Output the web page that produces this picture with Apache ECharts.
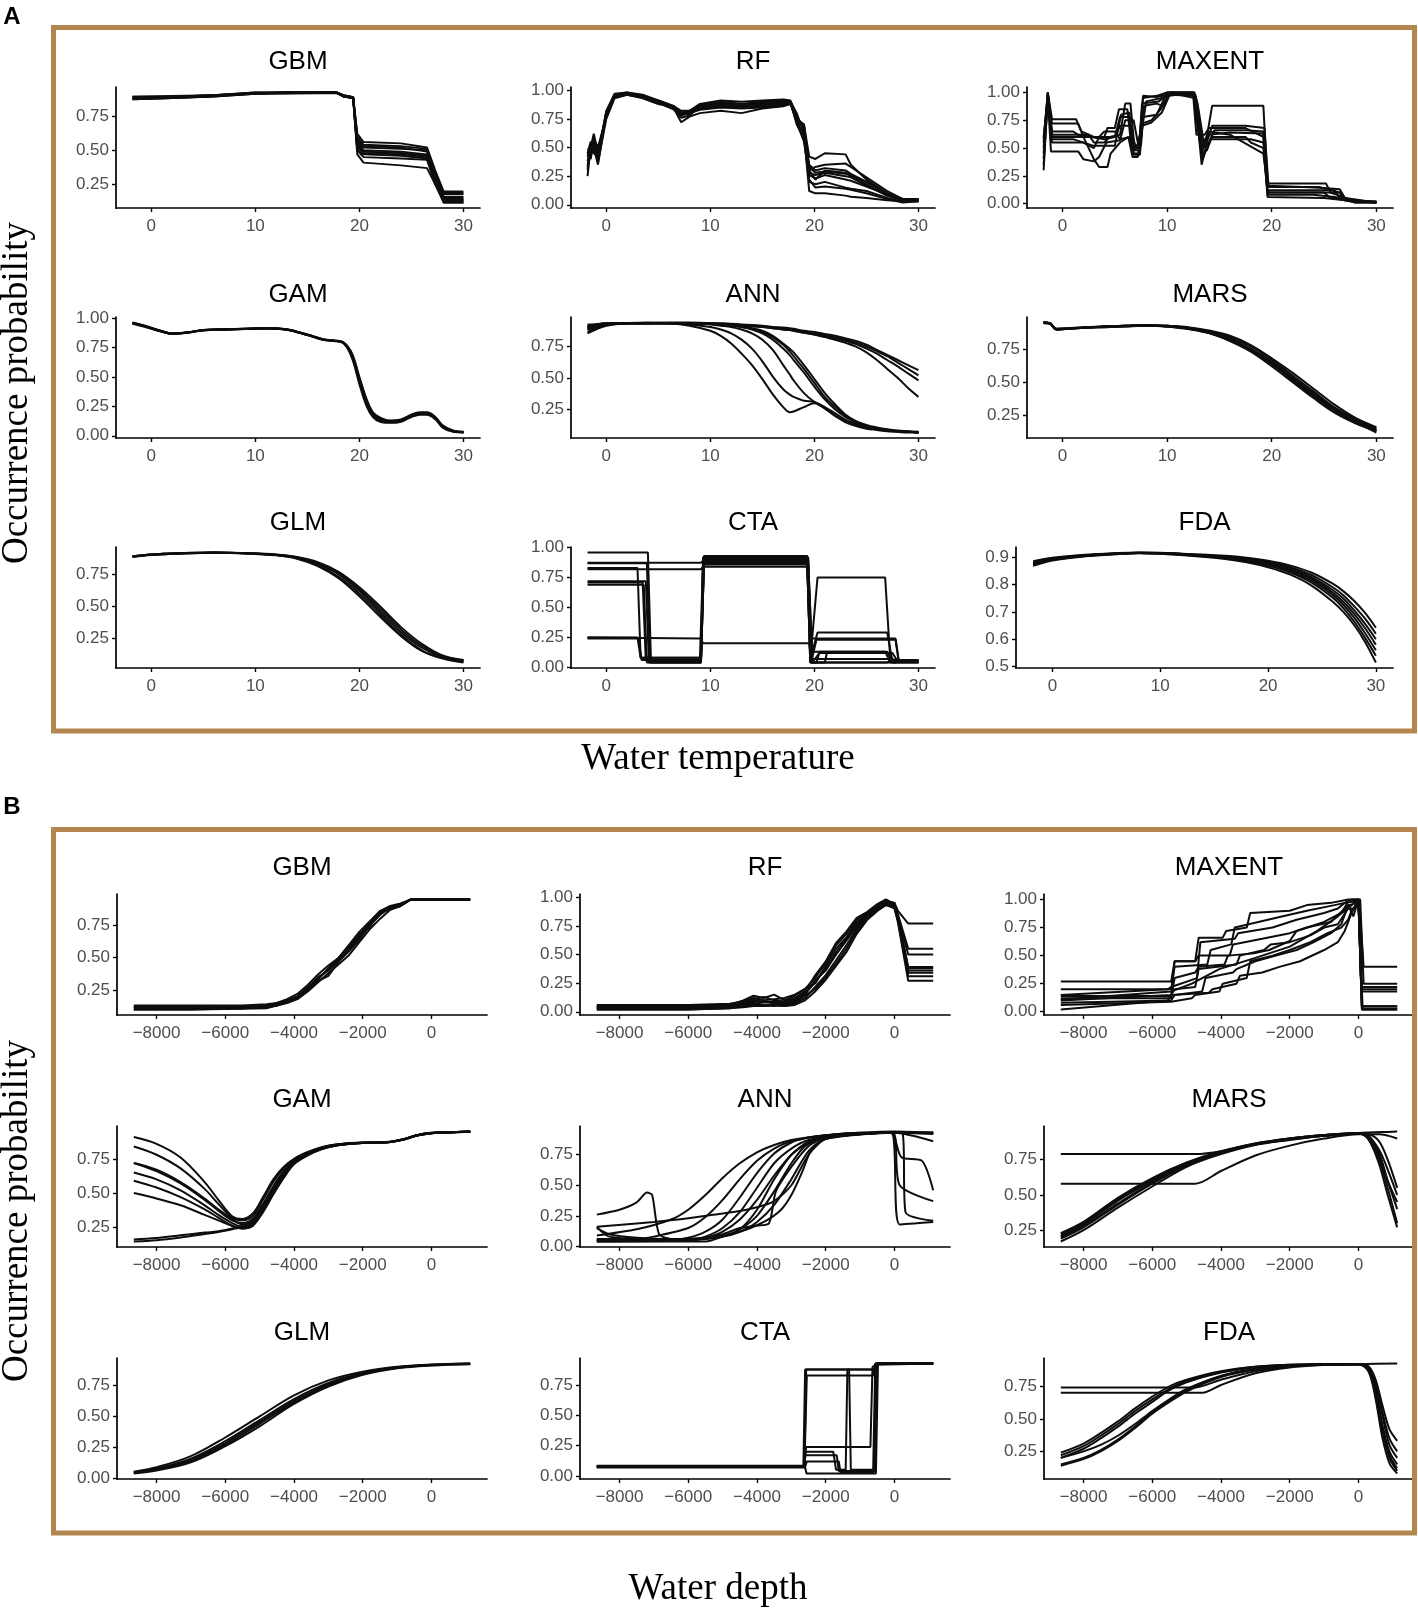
<!DOCTYPE html>
<html><head><meta charset="utf-8">
<script src="https://cdn.jsdelivr.net/npm/echarts@6/dist/echarts.min.js"></script>
<style>html,body{margin:0;padding:0;background:#fff}#c{width:1418px;height:1608px}</style>
</head><body><div id="c"></div>
<script>
// ---------------- DATA ----------------
const A_X_RANGE = [-1.8, 30];
const B_X_RANGE = [-8660, 1126];
const A_X_TICKS = [0, 10, 20, 30];
const B_X_TICKS = [-8000, -6000, -4000, -2000, 0];
const MODEL_NAMES = ['GBM','RF','MAXENT','GAM','ANN','MARS','GLM','CTA','FDA'];

// A: water temperature
const A_GBM_X = [-1.8,2,6,10,14,17.8,18.5,19.4,19.8,20.4,24,26.5,27.3,28.1,30];
const A_GBM_Y = [
 [0.87,0.88,0.895,0.915,0.92,0.92,0.895,0.885,0.62,0.56,0.55,0.52,0.35,0.2,0.2],
 [0.89,0.89,0.9,0.92,0.92,0.92,0.89,0.88,0.58,0.53,0.52,0.49,0.3,0.18,0.18],
 [0.88,0.885,0.9,0.915,0.92,0.92,0.89,0.88,0.55,0.5,0.49,0.47,0.28,0.15,0.15],
 [0.885,0.89,0.895,0.915,0.92,0.92,0.9,0.885,0.5,0.47,0.46,0.44,0.25,0.12,0.12],
 [0.875,0.88,0.89,0.91,0.915,0.915,0.89,0.88,0.47,0.41,0.39,0.37,0.25,0.14,0.14],
 [0.89,0.895,0.9,0.92,0.92,0.92,0.895,0.885,0.56,0.52,0.51,0.5,0.3,0.16,0.16],
 [0.88,0.885,0.895,0.915,0.92,0.92,0.89,0.88,0.53,0.49,0.48,0.46,0.3,0.13,0.13],
 [0.87,0.88,0.89,0.91,0.915,0.918,0.9,0.885,0.6,0.54,0.53,0.51,0.33,0.19,0.19],
 [0.885,0.89,0.9,0.915,0.92,0.92,0.895,0.88,0.52,0.48,0.47,0.45,0.28,0.12,0.12],
 [0.88,0.885,0.895,0.915,0.92,0.92,0.895,0.885,0.5,0.45,0.44,0.43,0.26,0.14,0.14]
];

const A_RF_X = [-1.8,-1.5,-1.2,-0.8,0,0.8,2,3.5,5,6.5,7.2,8,9,11,13,15,17,17.7,18.3,19,19.5,20.1,21,23,23.5,25,27,28.5,30];
const A_RF_Y = [
 [0.25,0.5,0.62,0.45,0.78,0.95,0.97,0.95,0.9,0.84,0.72,0.77,0.8,0.82,0.8,0.84,0.86,0.88,0.75,0.7,0.42,0.4,0.45,0.44,0.35,0.22,0.1,0.04,0.04],
 [0.45,0.4,0.55,0.37,0.75,0.93,0.96,0.93,0.88,0.85,0.8,0.8,0.84,0.87,0.86,0.87,0.88,0.9,0.72,0.68,0.3,0.22,0.3,0.28,0.25,0.18,0.08,0.04,0.05],
 [0.3,0.5,0.45,0.42,0.8,0.96,0.98,0.95,0.9,0.84,0.76,0.78,0.86,0.9,0.88,0.89,0.9,0.9,0.8,0.62,0.12,0.1,0.1,0.08,0.07,0.06,0.04,0.03,0.03],
 [0.38,0.48,0.5,0.4,0.82,0.97,0.98,0.96,0.91,0.86,0.82,0.82,0.88,0.91,0.9,0.91,0.92,0.91,0.78,0.65,0.35,0.3,0.32,0.3,0.27,0.2,0.1,0.05,0.05],
 [0.42,0.52,0.58,0.5,0.77,0.96,0.97,0.94,0.89,0.85,0.8,0.79,0.85,0.88,0.87,0.88,0.89,0.9,0.7,0.58,0.2,0.18,0.2,0.15,0.14,0.12,0.06,0.03,0.03],
 [0.35,0.45,0.5,0.35,0.79,0.94,0.96,0.94,0.89,0.83,0.78,0.8,0.83,0.85,0.84,0.85,0.87,0.89,0.74,0.7,0.28,0.26,0.28,0.25,0.24,0.17,0.08,0.04,0.04],
 [0.4,0.43,0.52,0.4,0.8,0.96,0.97,0.95,0.9,0.85,0.8,0.82,0.87,0.89,0.88,0.9,0.91,0.9,0.76,0.68,0.3,0.33,0.35,0.36,0.33,0.24,0.12,0.05,0.05],
 [0.45,0.55,0.5,0.45,0.81,0.95,0.97,0.95,0.91,0.86,0.81,0.8,0.86,0.88,0.87,0.88,0.9,0.88,0.73,0.6,0.22,0.15,0.16,0.14,0.13,0.1,0.05,0.02,0.03],
 [0.33,0.47,0.56,0.43,0.79,0.95,0.96,0.94,0.9,0.84,0.79,0.81,0.85,0.87,0.86,0.86,0.88,0.89,0.72,0.55,0.26,0.23,0.26,0.22,0.21,0.16,0.09,0.04,0.04],
 [0.48,0.5,0.54,0.38,0.8,0.96,0.97,0.94,0.9,0.85,0.8,0.8,0.84,0.86,0.85,0.87,0.88,0.9,0.75,0.66,0.33,0.28,0.29,0.27,0.26,0.2,0.1,0.04,0.04]
];

const A_MAXENT = [
 [[-1.8,0.3],[-1.4,1.0],[-1.0,0.76],[1.3,0.76],[1.8,0.65],[3,0.6],[4,0.6],[4.3,0.68],[5,0.68],[5.4,0.85],[6.2,0.85],[6.6,0.5],[7.3,0.5],[7.7,0.95],[9,0.97],[10,1.0],[12.5,1.0],[12.9,0.7],[13.3,0.45],[13.8,0.6],[14.3,0.88],[19.2,0.88],[19.6,0.18],[25.2,0.18],[25.6,0.1],[28,0.02],[30,0.02]],
 [[-1.8,0.45],[-1.4,0.98],[-1.0,0.72],[1.5,0.72],[2,0.6],[5,0.6],[5.5,0.78],[6.4,0.78],[6.8,0.45],[7.3,0.45],[7.6,0.9],[9.2,0.92],[10.3,1.0],[12.6,1.0],[13,0.65],[13.3,0.35],[13.8,0.55],[14.3,0.7],[17.5,0.7],[19.3,0.68],[19.7,0.15],[24.5,0.15],[26.5,0.1],[27,0.03],[30,0.02]],
 [[-1.8,0.55],[-1.4,1.0],[-1.0,0.6],[2,0.6],[3,0.4],[3.5,0.33],[4.3,0.33],[4.6,0.45],[5.5,0.55],[6.3,0.6],[6.7,0.42],[7.2,0.42],[7.6,0.72],[8.5,0.75],[9.4,0.85],[10.2,0.98],[12.5,0.97],[12.8,0.62],[13.6,0.62],[14,0.68],[17.5,0.68],[19.2,0.6],[19.6,0.12],[26,0.12],[26.5,0.05],[28,0.01],[30,0.01]],
 [[-1.8,0.6],[-1.4,0.95],[-1.1,0.47],[1.5,0.47],[2,0.4],[3,0.38],[3.5,0.42],[4.2,0.55],[5.5,0.57],[6,0.75],[6.8,0.75],[7.2,0.55],[7.6,0.7],[8.5,0.73],[9.5,0.82],[10.2,0.97],[12.6,1.0],[12.9,0.9],[13.4,0.4],[13.8,0.5],[14.3,0.6],[17.5,0.6],[18,0.55],[19.2,0.5],[19.6,0.1],[25,0.1],[25.5,0.06],[27,0.03],[30,0.01]],
 [[-1.8,0.5],[-1.4,1.0],[-1.0,0.65],[1,0.65],[1.5,0.62],[4,0.58],[5,0.6],[5.5,0.7],[6.5,0.7],[7,0.5],[7.5,0.6],[8,0.92],[9.5,0.95],[10.5,1.0],[12.5,0.98],[13,0.75],[13.4,0.5],[14,0.55],[14.5,0.66],[17.5,0.66],[19.2,0.65],[19.6,0.08],[24,0.08],[26,0.06],[28,0.02],[30,0.01]],
 [[-1.8,0.35],[-1.4,0.97],[-1.0,0.62],[2.5,0.62],[3,0.55],[4,0.55],[4.5,0.6],[5.5,0.62],[6,0.9],[6.5,0.9],[6.9,0.48],[7.3,0.48],[7.7,0.97],[9,0.96],[10,0.98],[12.7,0.98],[13,0.85],[13.5,0.55],[14,0.65],[16,0.62],[19.2,0.45],[19.6,0.16],[23,0.15],[25,0.14],[26.5,0.13],[27,0.05],[30,0.01]],
 [[-1.8,0.58],[-1.4,1.0],[-1.0,0.58],[1,0.58],[3,0.52],[5,0.52],[5.6,0.8],[6.4,0.82],[6.8,0.44],[7.4,0.44],[7.7,0.78],[9,0.8],[10,1.0],[12.5,1.0],[12.8,0.8],[13.3,0.45],[13.8,0.48],[14.2,0.58],[18,0.58],[19.2,0.55],[19.6,0.06],[25,0.05],[27,0.03],[28,0.01],[30,0.01]],
 [[-1.8,0.4],[-1.4,0.92],[-1.0,0.55],[2,0.55],[3,0.5],[3.5,0.6],[4,0.65],[5,0.65],[5.5,0.58],[6.5,0.6],[7,0.52],[7.5,0.52],[7.8,0.88],[9,0.9],[9.6,0.88],[10.2,1.0],[12.6,0.95],[13,0.72],[13.4,0.52],[14,0.62],[16,0.64],[19.2,0.63],[19.6,0.1],[26.5,0.1],[27,0.04],[30,0.01]]
];

const A_GAM_X = [-1.8,-0.5,1,2,3.5,5,7,9,11,13,15,16.5,17.5,18.5,19.3,20,20.7,21.3,22,23,24,25,25.8,26.5,27.3,28,29,30];
const A_GAM_Y = [
 [0.96,0.93,0.89,0.87,0.88,0.9,0.905,0.91,0.915,0.905,0.86,0.82,0.81,0.79,0.68,0.47,0.28,0.18,0.14,0.12,0.13,0.17,0.19,0.19,0.15,0.08,0.04,0.03],
 [0.955,0.925,0.885,0.868,0.878,0.898,0.905,0.91,0.913,0.903,0.858,0.818,0.808,0.785,0.66,0.44,0.25,0.16,0.12,0.11,0.12,0.16,0.18,0.18,0.14,0.07,0.035,0.03],
 [0.965,0.935,0.893,0.873,0.882,0.902,0.908,0.912,0.916,0.907,0.863,0.823,0.813,0.795,0.7,0.5,0.31,0.2,0.155,0.13,0.14,0.18,0.2,0.2,0.16,0.09,0.045,0.035],
 [0.958,0.928,0.888,0.869,0.879,0.899,0.904,0.909,0.914,0.904,0.859,0.819,0.81,0.79,0.67,0.46,0.27,0.17,0.13,0.115,0.125,0.165,0.185,0.185,0.145,0.075,0.038,0.028],
 [0.962,0.932,0.891,0.871,0.881,0.901,0.906,0.911,0.916,0.906,0.861,0.821,0.812,0.792,0.69,0.49,0.3,0.19,0.145,0.125,0.135,0.175,0.195,0.195,0.155,0.085,0.042,0.032],
 [0.96,0.93,0.89,0.87,0.88,0.9,0.906,0.911,0.915,0.905,0.86,0.82,0.81,0.788,0.675,0.465,0.285,0.185,0.142,0.122,0.132,0.172,0.192,0.19,0.15,0.08,0.04,0.03]
];

const A_ANN_X = [-1.8,-1,0,2,4,6,8,10,11,12,13,14,15,16,17,17.6,18,19,20,21,22,23,24,25,26,27,28,29,30];
const A_ANN_Y = [
 [0.9,0.92,0.93,0.93,0.93,0.935,0.935,0.93,0.93,0.925,0.92,0.915,0.91,0.9,0.895,0.89,0.885,0.87,0.86,0.845,0.83,0.81,0.79,0.76,0.72,0.68,0.64,0.6,0.56],
 [0.88,0.9,0.92,0.93,0.93,0.93,0.93,0.93,0.925,0.92,0.915,0.91,0.905,0.895,0.89,0.885,0.88,0.865,0.85,0.835,0.82,0.8,0.775,0.745,0.71,0.67,0.62,0.57,0.52],
 [0.86,0.89,0.92,0.93,0.93,0.93,0.93,0.925,0.92,0.915,0.91,0.905,0.9,0.89,0.88,0.875,0.87,0.855,0.84,0.825,0.81,0.79,0.765,0.73,0.69,0.64,0.59,0.535,0.48],
 [0.92,0.92,0.925,0.93,0.93,0.93,0.93,0.925,0.92,0.915,0.91,0.905,0.9,0.89,0.88,0.875,0.87,0.855,0.84,0.82,0.8,0.775,0.745,0.7,0.64,0.57,0.5,0.42,0.35],
 [0.9,0.91,0.92,0.93,0.935,0.93,0.91,0.87,0.83,0.77,0.69,0.6,0.49,0.37,0.27,0.23,0.235,0.27,0.3,0.26,0.2,0.15,0.12,0.1,0.09,0.08,0.075,0.07,0.07],
 [0.89,0.9,0.92,0.93,0.93,0.93,0.92,0.9,0.88,0.85,0.8,0.73,0.63,0.51,0.41,0.37,0.35,0.32,0.31,0.27,0.22,0.17,0.14,0.11,0.1,0.09,0.08,0.075,0.07],
 [0.85,0.88,0.91,0.93,0.93,0.93,0.93,0.92,0.91,0.9,0.88,0.85,0.8,0.72,0.6,0.53,0.48,0.38,0.31,0.26,0.2,0.16,0.13,0.11,0.1,0.09,0.08,0.075,0.07],
 [0.9,0.91,0.92,0.93,0.93,0.93,0.93,0.925,0.92,0.91,0.9,0.88,0.85,0.8,0.73,0.68,0.64,0.54,0.43,0.33,0.25,0.19,0.15,0.12,0.1,0.09,0.08,0.075,0.07],
 [0.91,0.92,0.93,0.93,0.93,0.93,0.93,0.925,0.92,0.915,0.905,0.89,0.87,0.83,0.77,0.73,0.7,0.6,0.49,0.38,0.29,0.21,0.16,0.13,0.11,0.095,0.085,0.08,0.075],
 [0.88,0.9,0.92,0.93,0.93,0.93,0.93,0.925,0.92,0.91,0.9,0.885,0.86,0.82,0.76,0.71,0.67,0.57,0.46,0.35,0.27,0.2,0.15,0.12,0.1,0.09,0.08,0.075,0.07]
];

const A_MARS_X = [-1.8,-1.2,-0.6,0,2,4,6,8,10,12,14,16,18,20,22,24,26,28,30];
const A_MARS_Y = [
 [0.95,0.945,0.9,0.9,0.91,0.92,0.925,0.93,0.925,0.91,0.88,0.83,0.75,0.65,0.53,0.41,0.3,0.21,0.14],
 [0.95,0.94,0.9,0.905,0.91,0.915,0.92,0.93,0.92,0.9,0.87,0.81,0.73,0.62,0.5,0.38,0.27,0.19,0.13],
 [0.95,0.945,0.905,0.905,0.915,0.92,0.925,0.93,0.925,0.915,0.89,0.85,0.78,0.68,0.57,0.45,0.33,0.23,0.16],
 [0.95,0.945,0.9,0.9,0.91,0.92,0.925,0.93,0.92,0.905,0.875,0.82,0.74,0.635,0.515,0.395,0.285,0.2,0.135],
 [0.945,0.94,0.895,0.9,0.91,0.915,0.92,0.925,0.92,0.905,0.87,0.82,0.74,0.64,0.52,0.4,0.29,0.2,0.12],
 [0.95,0.945,0.9,0.9,0.91,0.92,0.925,0.93,0.925,0.91,0.885,0.84,0.77,0.67,0.55,0.43,0.31,0.22,0.15],
 [0.95,0.945,0.9,0.902,0.912,0.918,0.923,0.928,0.922,0.908,0.878,0.828,0.752,0.655,0.535,0.415,0.3,0.21,0.14]
];

const A_GLM_X = [-1.8,0,3,6,9,12,14,16,18,20,22,24,26,28,30];
const A_GLM_Y = [
 [0.89,0.905,0.915,0.92,0.915,0.9,0.88,0.83,0.75,0.62,0.46,0.3,0.18,0.11,0.08],
 [0.89,0.905,0.915,0.92,0.915,0.905,0.885,0.845,0.77,0.65,0.5,0.34,0.21,0.12,0.085],
 [0.885,0.9,0.912,0.918,0.915,0.9,0.875,0.82,0.73,0.6,0.44,0.28,0.16,0.1,0.07],
 [0.89,0.905,0.915,0.92,0.915,0.903,0.883,0.838,0.76,0.635,0.48,0.32,0.195,0.115,0.08],
 [0.887,0.902,0.913,0.918,0.913,0.898,0.872,0.815,0.72,0.58,0.42,0.27,0.155,0.095,0.065]
];

const A_CTA = [
 [[-1.8,0.96],[4.0,0.96],[4.3,0.04],[9.1,0.04],[9.4,0.93],[19.3,0.93],[19.6,0.04],[20.2,0.04],[20.5,0.13],[27,0.13],[27.4,0.05],[30,0.05]],
 [[-1.8,0.875],[9.1,0.875],[9.4,0.9],[19.3,0.9],[19.6,0.06],[20.3,0.75],[26.8,0.75],[27.3,0.05],[30,0.05]],
 [[-1.8,0.87],[3.9,0.87],[4.2,0.05],[9.1,0.05],[9.3,0.92],[19.4,0.92],[19.7,0.04],[27.8,0.04],[28,0.05],[30,0.05]],
 [[-1.8,0.82],[9.1,0.82],[9.3,0.84],[19.4,0.84],[19.6,0.24],[27.8,0.24],[28.1,0.06],[30,0.06]],
 [[-1.8,0.83],[3,0.83],[3.3,0.08],[9,0.08],[9.3,0.88],[19.3,0.88],[19.7,0.1],[20.3,0.29],[27,0.29],[27.5,0.05],[30,0.05]],
 [[-1.8,0.72],[3.8,0.72],[4.1,0.04],[9.1,0.04],[9.4,0.91],[19.4,0.91],[19.8,0.04],[20.5,0.12],[27.2,0.12],[27.6,0.04],[30,0.04]],
 [[-1.8,0.71],[3.5,0.71],[3.8,0.06],[9.1,0.06],[9.4,0.89],[19.4,0.89],[19.8,0.07],[27.5,0.07],[28,0.05],[30,0.05]],
 [[-1.8,0.69],[3.6,0.69],[3.9,0.04],[9.1,0.04],[9.3,0.86],[19.3,0.86],[19.6,0.13],[26.8,0.13],[27.3,0.04],[30,0.04]],
 [[-1.8,0.25],[9.1,0.24],[9.3,0.2],[19.5,0.2],[19.8,0.04],[21,0.04],[21.2,0.12],[27.5,0.12],[28,0.05],[30,0.05]],
 [[-1.8,0.25],[3,0.25],[3.3,0.08],[9.1,0.08],[9.4,0.93],[19.3,0.93],[19.6,0.04],[27,0.04],[27.3,0.06],[30,0.06]],
 [[-1.8,0.24],[3.1,0.24],[3.4,0.06],[9.1,0.06],[9.3,0.87],[19.4,0.87],[19.7,0.05],[20.2,0.23],[27.8,0.23],[28.1,0.05],[30,0.05]]
];

const A_FDA_X = [-1.8,0,3,6,8,10,13,16,18,20,22,24,26,27,28,29,30];
const A_FDA_Y = [
 [0.885,0.898,0.909,0.915,0.917,0.916,0.911,0.905,0.898,0.887,0.87,0.844,0.803,0.775,0.74,0.696,0.642],
 [0.88,0.895,0.907,0.914,0.916,0.915,0.91,0.903,0.895,0.883,0.864,0.835,0.79,0.76,0.72,0.675,0.62],
 [0.878,0.894,0.906,0.913,0.916,0.915,0.909,0.902,0.893,0.88,0.86,0.828,0.78,0.748,0.705,0.656,0.6],
 [0.875,0.893,0.905,0.913,0.915,0.914,0.908,0.9,0.891,0.877,0.855,0.822,0.771,0.736,0.692,0.64,0.58],
 [0.872,0.891,0.905,0.912,0.915,0.914,0.907,0.898,0.888,0.873,0.85,0.815,0.762,0.725,0.678,0.622,0.56],
 [0.87,0.89,0.904,0.912,0.915,0.913,0.906,0.896,0.885,0.869,0.845,0.808,0.752,0.713,0.664,0.605,0.54],
 [0.868,0.888,0.903,0.911,0.914,0.912,0.904,0.893,0.881,0.863,0.837,0.797,0.737,0.699,0.651,0.59,0.515]
];

// B: water depth
const B_GBM_X = [-8660,-7000,-5500,-4800,-4500,-4200,-3900,-3600,-3300,-3000,-2700,-2400,-2100,-1800,-1500,-1200,-900,-600,0,1126];
const B_GBM_Y = [
 [0.12,0.12,0.12,0.13,0.15,0.17,0.2,0.27,0.35,0.4,0.48,0.56,0.66,0.74,0.84,0.88,0.9,0.95,0.95,0.95],
 [0.1,0.1,0.105,0.11,0.13,0.15,0.18,0.24,0.31,0.38,0.45,0.52,0.62,0.72,0.8,0.87,0.9,0.95,0.95,0.95],
 [0.13,0.13,0.13,0.14,0.15,0.18,0.22,0.29,0.37,0.44,0.5,0.6,0.7,0.78,0.86,0.89,0.91,0.95,0.95,0.95],
 [0.11,0.11,0.11,0.12,0.13,0.16,0.19,0.26,0.33,0.42,0.5,0.58,0.68,0.76,0.85,0.88,0.9,0.95,0.95,0.95],
 [0.12,0.12,0.12,0.12,0.14,0.16,0.2,0.25,0.32,0.36,0.47,0.55,0.64,0.75,0.83,0.89,0.91,0.95,0.95,0.95],
 [0.1,0.1,0.11,0.12,0.13,0.16,0.2,0.27,0.34,0.41,0.49,0.58,0.67,0.77,0.86,0.9,0.92,0.95,0.95,0.95]
];

const B_RF_X = [-8660,-6000,-4800,-4400,-4100,-3800,-3500,-3200,-2900,-2600,-2300,-2000,-1700,-1400,-1100,-800,-500,-250,0,100,400,1126];
const B_RF_Y = [
 [0.05,0.05,0.06,0.1,0.14,0.12,0.15,0.1,0.14,0.2,0.3,0.42,0.58,0.68,0.8,0.86,0.93,0.96,0.95,0.88,0.77,0.77],
 [0.03,0.03,0.04,0.07,0.08,0.06,0.07,0.06,0.1,0.16,0.26,0.38,0.5,0.62,0.74,0.84,0.92,0.97,0.93,0.85,0.55,0.55],
 [0.02,0.02,0.03,0.04,0.05,0.05,0.06,0.05,0.07,0.12,0.22,0.32,0.45,0.58,0.72,0.83,0.9,0.95,0.92,0.84,0.5,0.5],
 [0.06,0.06,0.07,0.09,0.12,0.1,0.11,0.12,0.15,0.2,0.25,0.4,0.55,0.65,0.78,0.85,0.91,0.97,0.94,0.83,0.39,0.39],
 [0.04,0.04,0.05,0.07,0.1,0.09,0.08,0.07,0.09,0.15,0.28,0.36,0.5,0.64,0.76,0.84,0.92,0.96,0.93,0.82,0.38,0.38],
 [0.05,0.05,0.05,0.08,0.11,0.13,0.1,0.09,0.12,0.18,0.32,0.44,0.6,0.7,0.82,0.87,0.94,0.98,0.94,0.82,0.36,0.36],
 [0.03,0.03,0.04,0.05,0.07,0.06,0.05,0.06,0.08,0.14,0.2,0.3,0.42,0.55,0.7,0.81,0.89,0.94,0.9,0.8,0.34,0.34],
 [0.04,0.04,0.05,0.06,0.09,0.08,0.09,0.08,0.11,0.17,0.27,0.37,0.52,0.63,0.75,0.85,0.93,0.97,0.95,0.8,0.31,0.31],
 [0.02,0.02,0.03,0.05,0.06,0.05,0.06,0.05,0.06,0.1,0.18,0.28,0.4,0.52,0.68,0.8,0.88,0.93,0.91,0.78,0.27,0.27]
];

const B_MAXENT = [
 [[-8660,0.27],[-5450,0.27],[-5350,0.45],[-4750,0.45],[-4650,0.66],[-3950,0.66],[-3850,0.72],[-3250,0.75],[-3150,0.88],[-2000,0.9],[-1500,0.95],[-800,0.97],[-300,1.0],[20,1.0],[150,0.4],[1126,0.4]],
 [[-8660,0.2],[-5450,0.2],[-5350,0.4],[-4400,0.42],[-4300,0.55],[-3700,0.6],[-3600,0.75],[-2200,0.85],[-1500,0.9],[-700,0.95],[-400,0.97],[-200,1.0],[50,1.0],[150,0.25],[1126,0.25]],
 [[-8660,0.15],[-5550,0.2],[-5450,0.22],[-4700,0.3],[-4600,0.62],[-3600,0.65],[-3500,0.7],[-2500,0.75],[-1800,0.82],[-1000,0.88],[-600,0.92],[-400,0.97],[-200,0.98],[0,0.98],[100,0.05],[1126,0.05]],
 [[-8660,0.12],[-5450,0.12],[-5350,0.3],[-4750,0.35],[-4650,0.4],[-3900,0.42],[-3800,0.5],[-3050,0.52],[-2600,0.55],[-2000,0.63],[-1800,0.72],[-1000,0.8],[-500,0.88],[-300,0.98],[0,1.0],[100,0.02],[1126,0.02]],
 [[-8660,0.1],[-5450,0.15],[-5350,0.2],[-4750,0.22],[-4650,0.38],[-3550,0.42],[-3450,0.5],[-2750,0.55],[-2550,0.6],[-2000,0.62],[-1400,0.68],[-1000,0.75],[-600,0.78],[-300,0.92],[-100,0.92],[0,1.0],[80,0.2],[1126,0.2]],
 [[-8660,0.08],[-5450,0.1],[-5350,0.15],[-4550,0.18],[-4450,0.3],[-3650,0.35],[-3550,0.38],[-3000,0.45],[-2400,0.5],[-1800,0.55],[-1300,0.62],[-800,0.7],[-500,0.78],[-300,0.95],[-150,0.85],[0,1.0],[120,0.03],[1126,0.03]],
 [[-8660,0.06],[-5450,0.09],[-4850,0.12],[-4750,0.15],[-4050,0.18],[-3950,0.25],[-3250,0.3],[-3150,0.45],[-2500,0.5],[-2000,0.55],[-1400,0.62],[-900,0.7],[-500,0.75],[-300,0.82],[-200,0.9],[0,0.98],[100,0.18],[1126,0.18]],
 [[-8660,0.02],[-5550,0.1],[-5450,0.15],[-4350,0.17],[-4250,0.2],[-3550,0.25],[-3450,0.32],[-2800,0.35],[-2300,0.4],[-1700,0.45],[-1000,0.55],[-600,0.62],[-400,0.72],[-200,0.88],[0,1.0],[100,0.05],[1126,0.05]],
 [[-8660,0.14],[-5450,0.14],[-5350,0.45],[-4750,0.45],[-4650,0.5],[-3750,0.5],[-3650,0.6],[-2800,0.65],[-2000,0.7],[-1500,0.75],[-800,0.8],[-300,0.95],[0,0.97],[80,0.22],[1126,0.22]],
 [[-8660,0.11],[-5450,0.18],[-4850,0.25],[-4050,0.38],[-3000,0.48],[-2000,0.58],[-1200,0.72],[-600,0.85],[-200,0.95],[0,1.0],[100,0.02],[1126,0.02]]
];

const B_GAM_X = [-8660,-8000,-7300,-6600,-6200,-5800,-5500,-5200,-4900,-4600,-4300,-4000,-3600,-3200,-2800,-2400,-2000,-1600,-1200,-800,-400,0,500,1126];
const B_GAM_Y = [
 [0.91,0.86,0.76,0.58,0.45,0.33,0.31,0.35,0.47,0.6,0.69,0.75,0.8,0.835,0.855,0.865,0.87,0.87,0.875,0.895,0.925,0.94,0.945,0.95],
 [0.84,0.78,0.68,0.53,0.42,0.32,0.3,0.33,0.45,0.58,0.68,0.745,0.795,0.83,0.852,0.862,0.868,0.869,0.874,0.894,0.924,0.939,0.944,0.95],
 [0.72,0.66,0.57,0.45,0.37,0.3,0.28,0.31,0.42,0.55,0.66,0.74,0.79,0.828,0.85,0.862,0.867,0.869,0.874,0.893,0.923,0.938,0.944,0.949],
 [0.72,0.67,0.58,0.46,0.38,0.31,0.27,0.29,0.4,0.53,0.64,0.73,0.785,0.825,0.848,0.86,0.866,0.868,0.873,0.893,0.922,0.938,0.944,0.949],
 [0.65,0.6,0.52,0.41,0.34,0.28,0.25,0.27,0.37,0.5,0.62,0.72,0.78,0.822,0.846,0.858,0.865,0.868,0.873,0.892,0.922,0.937,0.943,0.948],
 [0.59,0.54,0.47,0.38,0.32,0.26,0.24,0.26,0.36,0.49,0.61,0.71,0.775,0.82,0.845,0.858,0.865,0.868,0.873,0.892,0.921,0.937,0.943,0.948],
 [0.5,0.46,0.41,0.34,0.3,0.26,0.24,0.26,0.38,0.52,0.64,0.73,0.79,0.83,0.852,0.862,0.867,0.869,0.874,0.894,0.923,0.939,0.944,0.95],
 [0.16,0.17,0.19,0.21,0.22,0.24,0.26,0.3,0.4,0.53,0.65,0.74,0.795,0.832,0.853,0.863,0.868,0.87,0.875,0.895,0.924,0.94,0.945,0.95],
 [0.145,0.155,0.175,0.2,0.215,0.235,0.25,0.28,0.38,0.51,0.63,0.72,0.785,0.826,0.849,0.861,0.866,0.868,0.873,0.893,0.922,0.938,0.944,0.949]
];

const B_ANN = [
 [[-8660,0.26],[-8000,0.3],[-7500,0.36],[-7200,0.44],[-7050,0.42],[-6850,0.1],[-6500,0.06],[-6000,0.05],[-5500,0.06],[-5000,0.08],[-4500,0.14],[-4000,0.3],[-3500,0.55],[-3000,0.75],[-2500,0.86],[-2000,0.9],[-1000,0.92],[0,0.93],[1126,0.93]],
 [[-8660,0.16],[-7000,0.2],[-6000,0.23],[-5000,0.27],[-4500,0.29],[-4000,0.32],[-3500,0.37],[-3000,0.5],[-2500,0.75],[-2000,0.88],[-1000,0.92],[-100,0.93],[200,0.73],[800,0.7],[1126,0.46]],
 [[-8660,0.15],[-8300,0.1],[-7500,0.07],[-6500,0.06],[-5500,0.07],[-4500,0.12],[-3800,0.2],[-3300,0.3],[-3000,0.42],[-2700,0.6],[-2400,0.8],[-2000,0.88],[-1000,0.92],[-50,0.93],[150,0.5],[1126,0.37]],
 [[-8660,0.09],[-7500,0.14],[-6500,0.22],[-6000,0.3],[-5500,0.42],[-5000,0.56],[-4500,0.68],[-4000,0.77],[-3500,0.83],[-3000,0.87],[-2000,0.91],[-1000,0.93],[-100,0.93],[150,0.18],[1126,0.2]],
 [[-8660,0.06],[-7500,0.06],[-7000,0.08],[-6000,0.15],[-5500,0.24],[-5000,0.38],[-4500,0.55],[-4000,0.7],[-3500,0.8],[-3000,0.86],[-2000,0.91],[-1000,0.93],[0,0.94],[1126,0.93]],
 [[-8660,0.05],[-6500,0.05],[-6000,0.07],[-5500,0.12],[-5000,0.22],[-4500,0.4],[-4000,0.6],[-3500,0.76],[-3000,0.85],[-2500,0.89],[-1500,0.92],[0,0.93],[1126,0.93]],
 [[-8660,0.04],[-6000,0.05],[-5500,0.08],[-5000,0.15],[-4500,0.28],[-4000,0.48],[-3500,0.68],[-3000,0.8],[-2500,0.87],[-1500,0.92],[0,0.93],[1126,0.92]],
 [[-8660,0.05],[-6000,0.05],[-5500,0.07],[-5000,0.12],[-4500,0.22],[-4000,0.38],[-3500,0.58],[-3000,0.75],[-2500,0.85],[-2000,0.9],[0,0.93],[240,0.92],[320,0.28],[1126,0.21]],
 [[-8660,0.04],[-5500,0.04],[-5000,0.08],[-4500,0.14],[-4000,0.25],[-3500,0.45],[-3000,0.68],[-2600,0.82],[-2000,0.89],[0,0.93],[1126,0.86]],
 [[-8660,0.05],[-6000,0.05],[-5000,0.1],[-4500,0.15],[-4000,0.17],[-3650,0.19],[-3450,0.45],[-3000,0.65],[-2500,0.82],[-2000,0.89],[0,0.93],[1126,0.93]],
 [[-8660,0.16],[-8300,0.08],[-7000,0.06],[-6000,0.06],[-5000,0.08],[-4500,0.12],[-4000,0.2],[-3500,0.34],[-3000,0.55],[-2500,0.78],[-2000,0.88],[0,0.93],[1126,0.93]]
];

const B_MARS = [
 [[-8660,0.23],[-8000,0.31],[-7000,0.48],[-6000,0.62],[-5000,0.73],[-4000,0.81],[-3000,0.865],[-2000,0.9],[-1000,0.925],[0,0.94],[300,0.92],[600,0.8],[850,0.6],[1126,0.4]],
 [[-8660,0.21],[-8000,0.29],[-7000,0.46],[-6000,0.6],[-5000,0.72],[-4000,0.8],[-3000,0.86],[-2000,0.895],[-1000,0.92],[0,0.935],[300,0.9],[600,0.75],[850,0.55],[1126,0.3]],
 [[-8660,0.19],[-8000,0.27],[-7000,0.43],[-6000,0.58],[-5000,0.71],[-4000,0.8],[-3000,0.86],[-2000,0.895],[-1000,0.92],[0,0.935],[300,0.91],[600,0.82],[850,0.68],[1126,0.5]],
 [[-8660,0.17],[-8000,0.25],[-7000,0.41],[-6000,0.56],[-5000,0.7],[-4000,0.79],[-3000,0.855],[-2000,0.89],[-1000,0.92],[0,0.935],[300,0.9],[600,0.78],[850,0.6],[1126,0.45]],
 [[-8660,0.22],[-8000,0.3],[-7000,0.47],[-6000,0.61],[-5000,0.725],[-4000,0.805],[-3000,0.86],[-2000,0.9],[-1000,0.925],[0,0.94],[300,0.89],[600,0.72],[850,0.5],[1126,0.27]],
 [[-8660,0.79],[-4750,0.79],[-4000,0.81],[-3000,0.865],[-2000,0.9],[-1000,0.925],[0,0.94],[1126,0.95]],
 [[-8660,0.58],[-4750,0.58],[-4000,0.67],[-3000,0.78],[-2000,0.85],[-1000,0.9],[0,0.93],[600,0.93],[1126,0.9]],
 [[-8660,0.2],[-8000,0.28],[-7000,0.44],[-6000,0.59],[-5000,0.715],[-4000,0.8],[-3000,0.858],[-2000,0.895],[-1000,0.92],[0,0.935],[300,0.93],[600,0.88],[850,0.75],[1126,0.55]]
];

const B_GLM_X = [-8660,-8000,-7000,-6000,-5000,-4000,-3000,-2000,-1000,0,1126];
const B_GLM_Y = [
 [0.05,0.08,0.16,0.3,0.47,0.64,0.77,0.85,0.895,0.915,0.925],
 [0.045,0.07,0.14,0.27,0.44,0.61,0.75,0.84,0.89,0.912,0.922],
 [0.055,0.09,0.18,0.33,0.5,0.67,0.79,0.86,0.9,0.917,0.926],
 [0.05,0.075,0.15,0.285,0.455,0.625,0.76,0.845,0.893,0.914,0.924],
 [0.04,0.065,0.13,0.26,0.42,0.6,0.74,0.835,0.888,0.91,0.92]
];

const B_CTA = [
 [[-8660,0.08],[-2650,0.08],[-2600,0.88],[-560,0.88],[-500,0.93],[1126,0.93]],
 [[-8660,0.075],[-2620,0.075],[-2550,0.83],[-620,0.83],[-560,0.92],[1126,0.93]],
 [[-8660,0.085],[-2640,0.085],[-2580,0.2],[-1780,0.2],[-1700,0.05],[-1420,0.05],[-1370,0.88],[-560,0.88],[-500,0.93],[1126,0.93]],
 [[-8660,0.08],[-2630,0.08],[-2570,0.24],[-700,0.24],[-640,0.9],[-520,0.93],[1126,0.93]],
 [[-8660,0.07],[-2600,0.07],[-2560,0.02],[-540,0.02],[-480,0.93],[1126,0.93]],
 [[-8660,0.08],[-2640,0.08],[-2590,0.17],[-1680,0.17],[-1620,0.04],[-560,0.04],[-500,0.93],[1126,0.93]],
 [[-8660,0.08],[-2620,0.08],[-2570,0.88],[-1320,0.88],[-1270,0.05],[-620,0.05],[-560,0.93],[1126,0.93]],
 [[-8660,0.075],[-2600,0.075],[-2550,0.12],[-1620,0.12],[-1570,0.03],[-600,0.03],[-540,0.93],[1126,0.93]]
];

const B_FDA = [
 [[-8660,0.24],[-8000,0.31],[-7500,0.39],[-7000,0.48],[-6500,0.58],[-6000,0.67],[-5500,0.75],[-5000,0.8],[-4000,0.865],[-3000,0.9],[-2000,0.915],[-1000,0.92],[0,0.92],[300,0.9],[500,0.8],[700,0.6],[900,0.42],[1126,0.33]],
 [[-8660,0.22],[-8000,0.29],[-7500,0.37],[-7000,0.46],[-6500,0.56],[-6000,0.65],[-5500,0.73],[-5000,0.79],[-4000,0.86],[-3000,0.9],[-2000,0.915],[-1000,0.92],[0,0.92],[300,0.88],[500,0.72],[700,0.45],[900,0.25],[1126,0.15]],
 [[-8660,0.2],[-8000,0.27],[-7500,0.35],[-7000,0.44],[-6500,0.54],[-6000,0.63],[-5500,0.72],[-5000,0.78],[-4000,0.855],[-3000,0.895],[-2000,0.913],[-1000,0.92],[0,0.92],[300,0.89],[500,0.76],[700,0.52],[900,0.3],[1126,0.2]],
 [[-8660,0.2],[-8000,0.25],[-7500,0.3],[-7000,0.37],[-6500,0.46],[-6000,0.56],[-5500,0.65],[-5000,0.73],[-4000,0.83],[-3000,0.885],[-2000,0.91],[-1000,0.918],[0,0.92],[300,0.87],[500,0.68],[700,0.4],[900,0.2],[1126,0.1]],
 [[-8660,0.15],[-8000,0.2],[-7500,0.26],[-7000,0.34],[-6500,0.44],[-6000,0.55],[-5500,0.64],[-5000,0.72],[-4000,0.83],[-3000,0.88],[-2000,0.908],[-1000,0.918],[0,0.92],[300,0.86],[500,0.65],[700,0.35],[900,0.16],[1126,0.08]],
 [[-8660,0.14],[-8000,0.19],[-7500,0.25],[-7000,0.33],[-6500,0.43],[-6000,0.54],[-5500,0.63],[-5000,0.71],[-4000,0.82],[-3000,0.878],[-2000,0.906],[-1000,0.917],[0,0.92],[300,0.88],[500,0.7],[700,0.42],[900,0.22],[1126,0.12]],
 [[-8660,0.74],[-4780,0.74],[-4000,0.8],[-3000,0.865],[-2000,0.9],[-1000,0.915],[0,0.92],[1126,0.925]],
 [[-8660,0.7],[-4540,0.7],[-4000,0.76],[-3000,0.85],[-2000,0.895],[-1000,0.913],[0,0.92],[300,0.9],[500,0.78],[700,0.55],[900,0.35],[1126,0.25]]
];

// ---------------- BUILD ----------------
function pairs(xs, ys) { return ys.map(y => xs.map((x, i) => [x, y[i]])); }

const PANELS = [
 {blk:'A', r:0, c:0, name:MODEL_NAMES[0], lines:pairs(A_GBM_X, A_GBM_Y), smooth:false},
 {blk:'A', r:0, c:1, name:MODEL_NAMES[1], lines:pairs(A_RF_X, A_RF_Y), smooth:false},
 {blk:'A', r:0, c:2, name:MODEL_NAMES[2], lines:A_MAXENT, smooth:false},
 {blk:'A', r:1, c:0, name:MODEL_NAMES[3], lines:pairs(A_GAM_X, A_GAM_Y), smooth:0.35},
 {blk:'A', r:1, c:1, name:MODEL_NAMES[4], lines:pairs(A_ANN_X, A_ANN_Y), smooth:0.35},
 {blk:'A', r:1, c:2, name:MODEL_NAMES[5], lines:pairs(A_MARS_X, A_MARS_Y), smooth:0.35},
 {blk:'A', r:2, c:0, name:MODEL_NAMES[6], lines:pairs(A_GLM_X, A_GLM_Y), smooth:0.35},
 {blk:'A', r:2, c:1, name:MODEL_NAMES[7], lines:A_CTA, smooth:false},
 {blk:'A', r:2, c:2, name:MODEL_NAMES[8], lines:pairs(A_FDA_X, A_FDA_Y), smooth:0.35, ystep:0.1, left:1016},
 {blk:'B', r:0, c:0, name:MODEL_NAMES[0], lines:pairs(B_GBM_X, B_GBM_Y), smooth:false},
 {blk:'B', r:0, c:1, name:MODEL_NAMES[1], lines:pairs(B_RF_X, B_RF_Y), smooth:false},
 {blk:'B', r:0, c:2, name:MODEL_NAMES[2], lines:B_MAXENT, smooth:false},
 {blk:'B', r:1, c:0, name:MODEL_NAMES[3], lines:pairs(B_GAM_X, B_GAM_Y), smooth:0.35},
 {blk:'B', r:1, c:1, name:MODEL_NAMES[4], lines:B_ANN, smooth:0.25},
 {blk:'B', r:1, c:2, name:MODEL_NAMES[5], lines:B_MARS, smooth:0.3},
 {blk:'B', r:2, c:0, name:MODEL_NAMES[6], lines:pairs(B_GLM_X, B_GLM_Y), smooth:0.35},
 {blk:'B', r:2, c:1, name:MODEL_NAMES[7], lines:B_CTA, smooth:false},
 {blk:'B', r:2, c:2, name:MODEL_NAMES[8], lines:B_FDA, smooth:0.3}
];

// layout (pixels)
const GRID_H = 121;
const ROW_TOP = {A:[87,317,547], B:[894,1126,1358]};
const TITLE_Y = {A:[62,295,523], B:[868,1100,1333]};
const COL_X = {A:[[116,480],[571,935],[1027,1393]], B:[[117,487],[580,950],[1044,1414]]};
const BORDER = '#B38650';
const TICK_COLOR = '#4D4D4D';
const SANS = '"Liberation Sans", Arial, Helvetica, sans-serif';
const SERIF = '"Liberation Serif", "Times New Roman", serif';

const grids = [], xAxes = [], yAxes = [], series = [], graphics = [];

function fmtX(v, blk) {
  if (blk === 'A') return String(v);
  return v < 0 ? '\u2212' + Math.abs(v) : String(v);
}

PANELS.forEach((p, i) => {
  const col = COL_X[p.blk][p.c];
  const left = p.left || col[0];
  const right = col[1];
  const top = ROW_TOP[p.blk][p.r];
  grids.push({left: left, top: top, width: right - left, height: GRID_H, containLabel: false});

  const xr = p.blk === 'A' ? A_X_RANGE : B_X_RANGE;
  const xpad = 0.05 * (xr[1] - xr[0]);
  let ymin = Infinity, ymax = -Infinity;
  p.lines.forEach(l => l.forEach(pt => { if (pt[1] < ymin) ymin = pt[1]; if (pt[1] > ymax) ymax = pt[1]; }));
  const ypad = 0.05 * (ymax - ymin);
  const y0 = ymin - ypad, y1 = ymax + ypad;
  const step = p.ystep || 0.25;
  const yt = [];
  for (let k = Math.ceil(y0 / step - 1e-9); k <= Math.floor(y1 / step + 1e-9); k++) yt.push(+(k * step).toFixed(4));
  const dec = step < 0.25 ? 1 : 2;
  const xt = p.blk === 'A' ? A_X_TICKS : B_X_TICKS;

  const axisLine = {show: true, onZero: false, lineStyle: {color: '#000', width: 1.7}};
  xAxes.push({
    type: 'value', gridIndex: i, min: xr[0] - xpad, max: xr[1] + xpad,
    axisLine: axisLine,
    axisTick: {show: true, length: 4, inside: false, customValues: xt, lineStyle: {color: '#000', width: 1.4}},
    axisLabel: {show: true, customValues: xt, margin: 10, color: TICK_COLOR, fontSize: 17, fontFamily: SANS,
      formatter: v => fmtX(v, p.blk)},
    splitLine: {show: false}
  });
  yAxes.push({
    type: 'value', gridIndex: i, min: y0, max: y1,
    axisLine: axisLine,
    axisTick: {show: true, length: 4, inside: false, customValues: yt, lineStyle: {color: '#000', width: 1.4}},
    axisLabel: {show: true, customValues: yt, margin: 7, color: TICK_COLOR, fontSize: 17, fontFamily: SANS,
      formatter: v => (+v).toFixed(dec)},
    splitLine: {show: false}
  });
  p.lines.forEach(l => {
    series.push({
      type: 'line', xAxisIndex: i, yAxisIndex: i, data: l,
      showSymbol: false, symbol: 'none', smooth: p.smooth,
      lineStyle: {color: '#0d0d0d', width: 2}, silent: true, animation: false, clip: true, z: 2
    });
  });
  graphics.push({type: 'text', x: (left + right) / 2, y: TITLE_Y[p.blk][p.r], z: 50,
    style: {text: p.name, font: '26px ' + SANS, fill: '#000', align: 'center', verticalAlign: 'middle', textAlign: 'center', textVerticalAlign: 'middle'}});
});

// frames and labels
graphics.push({type: 'rect', z: 100, shape: {x: 53.5, y: 27.5, width: 1361, height: 703.5},
  style: {fill: 'rgba(0,0,0,0)', stroke: BORDER, lineWidth: 5}});
graphics.push({type: 'rect', z: 100, shape: {x: 53.5, y: 829.5, width: 1361, height: 703.5},
  style: {fill: 'rgba(0,0,0,0)', stroke: BORDER, lineWidth: 5}});
[['A', 17], ['B', 807]].forEach(a => graphics.push({type: 'text', x: 12, y: a[1], z: 50,
  style: {text: a[0], font: 'bold 24px ' + SANS, fill: '#000', align: 'center', verticalAlign: 'middle', textAlign: 'center', textVerticalAlign: 'middle'}}));
[['Water temperature', 759], ['Water depth', 1589]].forEach(a => graphics.push({type: 'text', x: 718, y: a[1], z: 50,
  style: {text: a[0], font: '37px ' + SERIF, fill: '#000', align: 'center', verticalAlign: 'middle', textAlign: 'center', textVerticalAlign: 'middle'}}));
[393, 1211].forEach(y => graphics.push({type: 'text', x: 17, y: y, rotation: Math.PI / 2, z: 50,
  style: {text: 'Occurrence probability', font: '37px ' + SERIF, fill: '#000', align: 'center', verticalAlign: 'middle', textAlign: 'center', textVerticalAlign: 'middle'}}));

const chart = echarts.init(document.getElementById('c'), null, {renderer: 'canvas'});
chart.setOption({
  animation: false,
  backgroundColor: '#fff',
  grid: grids, xAxis: xAxes, yAxis: yAxes, series: series,
  graphic: {elements: graphics}
});
</script>
</body></html>
